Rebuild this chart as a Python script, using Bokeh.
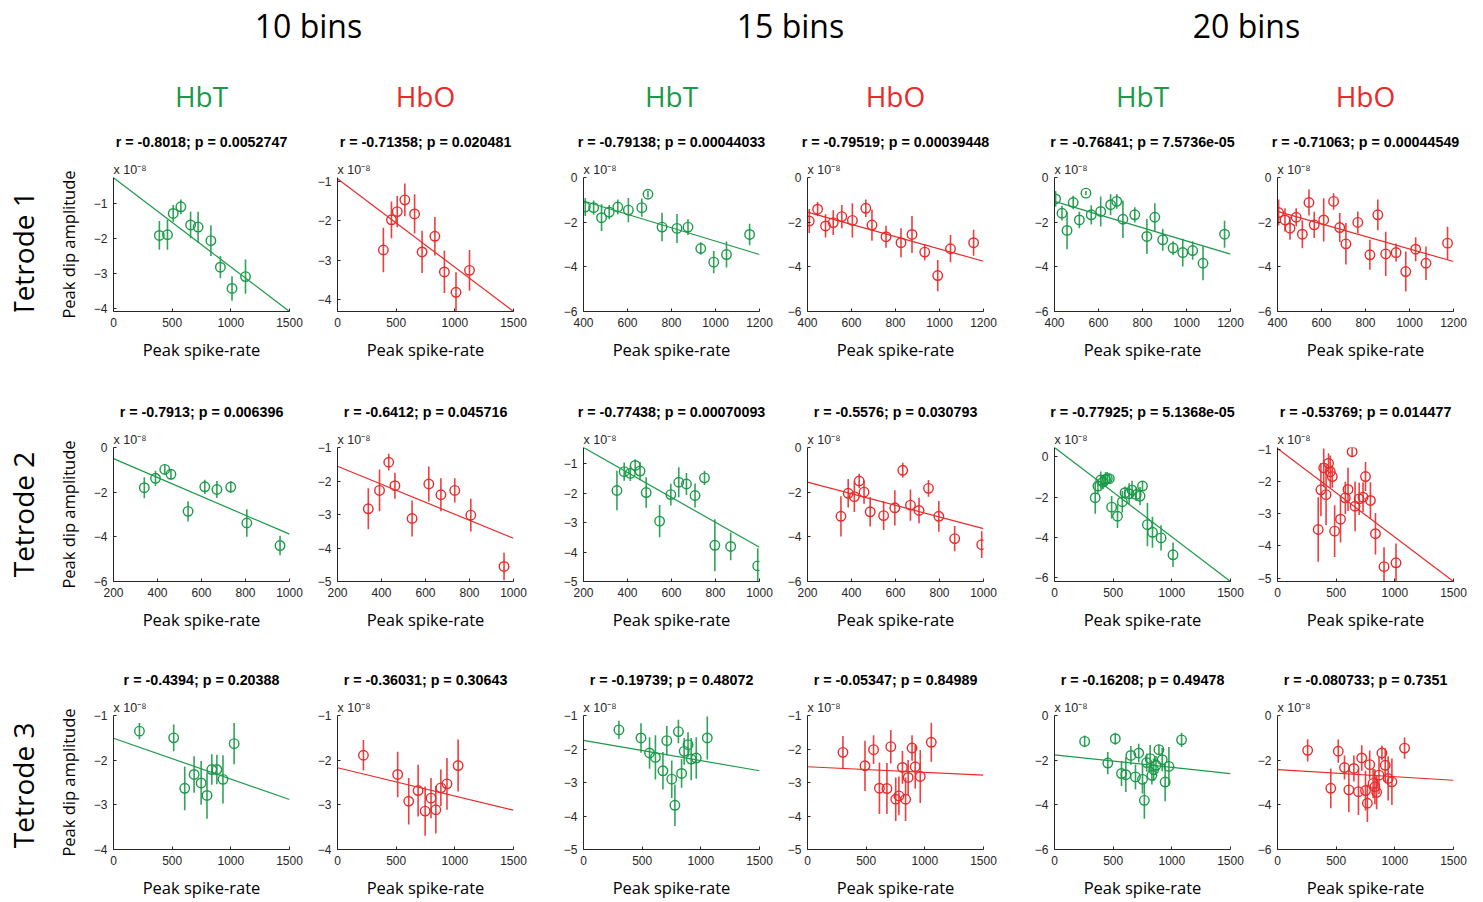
import numpy as np
from bokeh.plotting import figure
from bokeh.layouts import row, column
from bokeh.models import Range1d, FixedTicker, Title, ColumnDataSource
from bokeh.core.properties import value
from bokeh.embed import file_html
from bokeh.resources import INLINE

# ---------------- text ----------------
BIN_TITLES = ["10 bins", "15 bins", "20 bins"]
SIGNALS = ["HbT", "HbO", "HbT", "HbO", "HbT", "HbO"]
TETRODES = ["Tetrode 1", "Tetrode 2", "Tetrode 3"]
X_LABEL = "Peak spike-rate"
Y_LABEL = "Peak dip amplitude"
EXP_LABEL = "x 10\u207b\u2078"

STATS = [
    ["r = -0.8018; p = 0.0052747", "r = -0.71358; p = 0.020481",
     "r = -0.79138; p = 0.00044033", "r = -0.79519; p = 0.00039448",
     "r = -0.76841; p = 7.5736e-05", "r = -0.71063; p = 0.00044549"],
    ["r = -0.7913; p = 0.006396", "r = -0.6412; p = 0.045716",
     "r = -0.77438; p = 0.00070093", "r = -0.5576; p = 0.030793",
     "r = -0.77925; p = 5.1368e-05", "r = -0.53769; p = 0.014477"],
    ["r = -0.4394; p = 0.20388", "r = -0.36031; p = 0.30643",
     "r = -0.19739; p = 0.48072", "r = -0.05347; p = 0.84989",
     "r = -0.16208; p = 0.49478", "r = -0.080733; p = 0.7351"],
]

# ---------------- data (amplitudes in units of 1e-8) ----------------
T1_B10_X = [391, 460, 509, 574, 657, 721, 830, 911, 1010, 1125]
T1_B10_HBT_Y = [-1.92, -1.90, -1.29, -1.10, -1.62, -1.68, -2.07, -2.83, -3.44, -3.10]
T1_B10_HBT_E = [0.41, 0.43, 0.24, 0.21, 0.38, 0.44, 0.44, 0.32, 0.35, 0.49]
T1_B10_HBO_Y = [-2.74, -1.97, -1.76, -1.46, -1.82, -2.79, -2.39, -3.30, -3.82, -3.26]
T1_B10_HBO_E = [0.57, 0.47, 0.40, 0.42, 0.50, 0.54, 0.49, 0.54, 0.51, 0.52]

T1_B15_X = [408, 446, 482, 517, 556, 604, 665, 693, 757, 825, 875, 933, 992, 1050, 1155]
T1_B15_HBT_Y = [-1.32, -1.35, -1.80, -1.55, -1.32, -1.46, -1.35, -0.75, -2.22, -2.28, -2.22, -3.18, -3.79, -3.45, -2.55]
T1_B15_HBT_E = [0.40, 0.32, 0.60, 0.32, 0.34, 0.54, 0.41, 0.15, 0.64, 0.65, 0.35, 0.28, 0.50, 0.58, 0.48]
T1_B15_HBO_Y = [-1.95, -1.42, -2.17, -2.02, -1.75, -1.92, -1.38, -2.13, -2.65, -2.92, -2.55, -3.34, -4.39, -3.19, -2.92]
T1_B15_HBO_E = [0.54, 0.32, 0.52, 0.55, 0.52, 0.77, 0.39, 0.70, 0.49, 0.65, 0.83, 0.36, 0.70, 0.61, 0.58]

T1_B20_X = [405, 434, 457, 485, 513, 543, 567, 610, 655, 683, 711, 765, 820, 856, 892, 939, 983, 1028, 1075, 1173]
T1_B20_HBT_Y = [-0.96, -1.60, -2.37, -1.12, -1.90, -0.70, -1.67, -1.52, -1.22, -1.07, -1.87, -1.67, -2.64, -1.78, -2.79, -3.16, -3.36, -3.27, -3.84, -2.54]
T1_B20_HBT_E = [0.35, 0.33, 0.84, 0.30, 0.37, 0.10, 0.43, 0.67, 0.47, 0.33, 0.84, 0.34, 0.78, 0.63, 0.49, 0.31, 0.62, 0.41, 0.76, 0.60]
T1_B20_HBO_Y = [-1.57, -1.90, -2.27, -1.78, -2.54, -1.12, -2.12, -1.90, -1.07, -2.24, -2.97, -2.01, -3.46, -1.67, -3.42, -3.36, -4.21, -3.21, -3.84, -2.94]
T1_B20_HBO_E = [0.58, 0.52, 0.52, 0.40, 0.63, 0.58, 0.59, 0.97, 0.37, 0.65, 0.93, 0.49, 0.67, 0.69, 0.99, 0.40, 0.90, 0.54, 0.75, 0.73]

T2_B10_X = [340, 391, 433, 461, 539, 615, 670, 733, 806, 957]
T2_B10_HBT_Y = [-1.80, -1.38, -0.98, -1.20, -2.86, -1.76, -1.88, -1.77, -3.38, -4.39]
T2_B10_HBT_E = [0.47, 0.34, 0.23, 0.23, 0.45, 0.32, 0.38, 0.26, 0.62, 0.44]
T2_B10_HBO_Y = [-2.83, -2.28, -1.44, -2.14, -3.12, -2.09, -2.41, -2.28, -3.02, -4.55]
T2_B10_HBO_E = [0.61, 0.62, 0.25, 0.39, 0.54, 0.52, 0.49, 0.36, 0.49, 0.41]

T2_B15_X = [352, 385, 413, 435, 457, 485, 546, 597, 633, 668, 707, 750, 797, 869, 992]
T2_B15_HBT_Y = [-1.91, -1.27, -1.33, -1.06, -1.25, -1.98, -2.95, -2.05, -1.63, -1.69, -2.08, -1.48, -3.77, -3.81, -4.47]
T2_B15_HBT_E = [0.67, 0.31, 0.26, 0.21, 0.31, 0.52, 0.55, 0.37, 0.51, 0.37, 0.41, 0.24, 0.88, 0.47, 0.60]
T2_B15_HBO_Y = [-3.08, -2.05, -2.20, -1.50, -2.00, -2.88, -3.05, -2.70, -1.02, -2.58, -2.82, -1.83, -3.08, -4.08, -4.35]
T2_B15_HBO_E = [0.90, 0.64, 0.69, 0.33, 0.52, 0.66, 0.64, 0.79, 0.34, 0.70, 0.57, 0.38, 0.69, 0.56, 0.60]

T2_B20_X = [347, 370, 394, 414, 435, 450, 467, 487, 537, 578, 601, 636, 661, 696, 729, 750, 792, 835, 908, 1010]
T2_B20_HBT_Y = [-2.03, -1.45, -1.15, -1.25, -1.12, -1.08, -1.08, -2.50, -2.95, -2.23, -1.78, -1.83, -1.65, -1.87, -1.95, -1.45, -3.37, -3.75, -4.03, -4.87]
T2_B20_HBT_E = [0.80, 0.37, 0.43, 0.36, 0.37, 0.33, 0.20, 0.56, 0.59, 0.54, 0.31, 0.52, 0.46, 0.32, 0.45, 0.25, 1.08, 0.77, 0.63, 0.61]
T2_B20_HBO_Y = [-3.49, -2.26, -1.58, -2.41, -1.44, -1.70, -1.85, -3.54, -3.17, -2.51, -2.25, -1.08, -2.77, -2.54, -2.49, -1.85, -2.59, -3.62, -4.64, -4.52]
T2_B20_HBO_E = [1.00, 0.82, 0.60, 0.95, 0.31, 0.50, 0.35, 0.80, 0.72, 0.50, 0.67, 0.15, 0.77, 0.50, 0.46, 0.45, 0.56, 0.64, 0.60, 0.60]

T3_B10_X = [221, 513, 607, 687, 747, 797, 838, 881, 933, 1028]
T3_B10_HBT_Y = [-1.35, -1.50, -2.63, -2.32, -2.51, -2.79, -2.21, -2.21, -2.43, -1.63]
T3_B10_HBT_E = [0.18, 0.30, 0.49, 0.41, 0.49, 0.52, 0.34, 0.33, 0.54, 0.46]
T3_B10_HBO_Y = [-1.89, -2.32, -2.92, -2.68, -3.14, -2.85, -3.11, -2.62, -2.53, -2.12]
T3_B10_HBO_E = [0.34, 0.51, 0.52, 0.58, 0.55, 0.45, 0.53, 0.41, 0.58, 0.58]

T3_B15_X = [302, 490, 563, 613, 677, 710, 752, 779, 809, 836, 858, 891, 918, 961, 1055]
T3_B15_HBT_Y = [-1.43, -1.67, -2.12, -2.25, -2.65, -1.75, -2.90, -3.68, -1.48, -2.73, -2.07, -1.87, -2.30, -2.27, -1.67]
T3_B15_HBT_E = [0.27, 0.44, 0.47, 0.66, 0.56, 0.44, 0.56, 0.62, 0.35, 0.43, 0.40, 0.37, 0.63, 0.62, 0.64]
T3_B15_HBO_Y = [-2.10, -2.50, -2.02, -3.17, -3.18, -1.93, -3.50, -3.40, -2.55, -3.50, -2.85, -1.97, -2.53, -2.82, -1.80]
T3_B15_HBO_E = [0.49, 0.75, 0.43, 0.77, 0.76, 0.50, 0.65, 0.58, 0.49, 0.65, 0.52, 0.38, 0.65, 0.79, 0.58]

T3_B20_X = [257, 454, 518, 571, 608, 651, 690, 718, 750, 766, 786, 815, 830, 845, 865, 890, 918, 943, 975, 1083]
T3_B20_HBT_Y = [-1.16, -2.13, -1.04, -2.60, -2.65, -1.79, -2.75, -1.68, -2.86, -3.80, -2.11, -1.93, -2.68, -2.43, -2.23, -1.53, -1.98, -2.98, -2.28, -1.09]
T3_B20_HBT_E = [0.26, 0.50, 0.27, 0.56, 0.78, 0.42, 0.56, 0.42, 0.63, 0.82, 0.41, 0.61, 0.41, 0.50, 0.42, 0.22, 0.52, 0.86, 0.87, 0.32]
T3_B20_HBO_Y = [-1.56, -3.26, -1.60, -2.33, -3.33, -2.37, -3.41, -1.90, -3.36, -3.93, -2.20, -3.04, -3.19, -3.44, -2.67, -1.68, -2.23, -2.82, -2.97, -1.46]
T3_B20_HBO_E = [0.50, 0.89, 0.52, 0.54, 1.00, 0.58, 1.04, 0.57, 0.89, 0.84, 0.63, 0.67, 0.78, 0.76, 0.84, 0.32, 0.76, 0.99, 1.04, 0.48]

# linear fits: y at the left and right end of each panel's x range
FIT_Y = [
    [(-0.27, -4.10), (-0.92, -4.31), (-1.05, -3.45), (-1.55, -3.75), (-1.07, -3.43), (-1.52, -3.76)],
    [(-0.50, -3.88), (-1.56, -3.71), (-0.45, -3.84), (-1.55, -3.63), (0.47, -6.20), (-0.98, -5.10)],
    [(-1.51, -2.88), (-2.17, -3.12), (-1.74, -2.65), (-2.53, -2.78), (-1.76, -2.60), (-2.42, -2.90)],
]

XLIM = [
    [(0, 1500), (0, 1500), (400, 1200), (400, 1200), (400, 1200), (400, 1200)],
    [(200, 1000), (200, 1000), (200, 1000), (200, 1000), (0, 1500), (0, 1500)],
    [(0, 1500)] * 6,
]
YLIM = [
    [(-4.1, -0.26), (-4.31, -0.89), (-6, 0), (-6, 0), (-6, 0), (-6, 0)],
    [(-6, 0), (-5, -1), (-5, -0.45), (-6, 0), (-6.2, 0.47), (-5.1, -0.95)],
    [(-4, -1), (-4, -1), (-5, -1), (-5, -1), (-6, 0), (-6, 0)],
]
XT_1500 = [0, 500, 1000, 1500]
XT_1200 = [400, 600, 800, 1000, 1200]
XT_1000 = [200, 400, 600, 800, 1000]
XTICKS = [
    [XT_1500, XT_1500, XT_1200, XT_1200, XT_1200, XT_1200],
    [XT_1000, XT_1000, XT_1000, XT_1000, XT_1500, XT_1500],
    [XT_1500] * 6,
]
YT_6 = [-6, -4, -2, 0]
YT_5 = [-5, -4, -3, -2, -1]
YT_4 = [-4, -3, -2, -1]
YTICKS = [
    [YT_4, YT_4, YT_6, YT_6, YT_6, YT_6],
    [YT_6, YT_5, YT_5, YT_6, YT_6, YT_5],
    [YT_4, YT_4, YT_5, YT_5, YT_6, YT_6],
]

PANELS = [
    [(T1_B10_X, T1_B10_HBT_Y, T1_B10_HBT_E), (T1_B10_X, T1_B10_HBO_Y, T1_B10_HBO_E),
     (T1_B15_X, T1_B15_HBT_Y, T1_B15_HBT_E), (T1_B15_X, T1_B15_HBO_Y, T1_B15_HBO_E),
     (T1_B20_X, T1_B20_HBT_Y, T1_B20_HBT_E), (T1_B20_X, T1_B20_HBO_Y, T1_B20_HBO_E)],
    [(T2_B10_X, T2_B10_HBT_Y, T2_B10_HBT_E), (T2_B10_X, T2_B10_HBO_Y, T2_B10_HBO_E),
     (T2_B15_X, T2_B15_HBT_Y, T2_B15_HBT_E), (T2_B15_X, T2_B15_HBO_Y, T2_B15_HBO_E),
     (T2_B20_X, T2_B20_HBT_Y, T2_B20_HBT_E), (T2_B20_X, T2_B20_HBO_Y, T2_B20_HBO_E)],
    [(T3_B10_X, T3_B10_HBT_Y, T3_B10_HBT_E), (T3_B10_X, T3_B10_HBO_Y, T3_B10_HBO_E),
     (T3_B15_X, T3_B15_HBT_Y, T3_B15_HBT_E), (T3_B15_X, T3_B15_HBO_Y, T3_B15_HBO_E),
     (T3_B20_X, T3_B20_HBT_Y, T3_B20_HBT_E), (T3_B20_X, T3_B20_HBO_Y, T3_B20_HBO_E)],
]

# ---------------- style / layout ----------------
GREEN = "#1a9a48"
RED = "#ea2a2a"
COLORS = [GREEN, RED] * 3
AX_COLOR = "#262626"
TICK_FONT = "Liberation Sans"
LABEL_FONT = "Open Sans"

FRAME_W = 176
FRAME_H = 134
LEFT_B = [63, 24, 35, 24, 36, 24]
RIGHT_B = [24, 35, 24, 35, 23, 30]
HEADER_H = 60
ROW_H = [317, 268, 257]
TOP_B = [117, 70, 70]
ROWLABEL_W = 50


def make_panel(ti, ci):
    xs, ys, es = PANELS[ti][ci]
    color = COLORS[ci]
    h = ROW_H[ti]
    w = LEFT_B[ci] + FRAME_W + RIGHT_B[ci]
    xlim = XLIM[ti][ci]
    ylim = YLIM[ti][ci]
    p = figure(width=w, height=h, x_range=Range1d(*xlim), y_range=Range1d(*ylim),
               output_backend="svg", toolbar_location=None,
               min_border_left=LEFT_B[ci], min_border_right=RIGHT_B[ci],
               min_border_top=TOP_B[ti], min_border_bottom=h - TOP_B[ti] - FRAME_H)
    p.outline_line_color = None
    p.xgrid.visible = False
    p.ygrid.visible = False
    p.background_fill_color = "white"
    p.border_fill_color = "white"

    # stacked above the frame, from the inside out
    p.add_layout(Title(text=EXP_LABEL, align="left", standoff=2,
                       text_font=TICK_FONT, text_font_size="12.5px",
                       text_font_style="normal", text_color=AX_COLOR), "above")
    p.add_layout(Title(text=STATS[ti][ci], align="center", standoff=20,
                       text_font=TICK_FONT, text_font_size="14.3px",
                       text_font_style="bold", text_color="black"), "above")
    if ti == 0:
        p.add_layout(Title(text=SIGNALS[ci], align="center", standoff=14,
                           text_font=LABEL_FONT, text_font_size="28px",
                           text_font_style="normal", text_color=color), "above")

    for ax in (p.xaxis[0], p.yaxis[0]):
        ax.axis_line_color = AX_COLOR
        ax.axis_line_width = 1
        ax.major_tick_line_color = AX_COLOR
        ax.major_tick_in = 3
        ax.major_tick_out = 0
        ax.minor_tick_line_color = None
        ax.major_label_text_font = TICK_FONT
        ax.major_label_text_font_size = "12px"
        ax.major_label_text_color = AX_COLOR
        ax.major_label_standoff = 6
        ax.axis_label_text_font = LABEL_FONT
        ax.axis_label_text_font_size = "16.5px"
        ax.axis_label_text_font_style = "normal"
        ax.axis_label_text_color = "black"

    p.xaxis.ticker = FixedTicker(ticks=XTICKS[ti][ci])
    p.yaxis.ticker = FixedTicker(ticks=YTICKS[ti][ci])
    p.xaxis.axis_label = X_LABEL
    p.xaxis.axis_label_standoff = 8
    if ci == 0:
        p.yaxis.axis_label = Y_LABEL
        p.yaxis.axis_label_standoff = 11

    # fit line
    p.line(x=list(xlim), y=list(FIT_Y[ti][ci]), line_color=color, line_width=1.2)

    # error bars and markers
    src = ColumnDataSource(dict(
        x=xs, y=ys,
        lo=[y - e for y, e in zip(ys, es)],
        hi=[y + e for y, e in zip(ys, es)],
    ))
    p.segment(x0="x", y0="lo", x1="x", y1="hi", source=src, line_color=color,
              line_width=1.6, line_alpha=0.9)
    p.scatter(x="x", y="y", source=src, marker="circle", size=9.5, fill_color=None,
              line_color=color, line_width=1.4)
    return p


def blank_fig(w, h):
    f = figure(width=w, height=h, x_range=Range1d(0, w), y_range=Range1d(0, h),
               output_backend="svg", toolbar_location=None,
               x_axis_type=None, y_axis_type=None,
               min_border=0, min_border_left=0, min_border_right=0,
               min_border_top=0, min_border_bottom=0)
    f.outline_line_color = None
    f.xgrid.visible = False
    f.ygrid.visible = False
    return f


# header with the bin-count titles
header = blank_fig(1483, HEADER_H)
BIN_X = [308, 790, 1246]
header.text(x=BIN_X, y=[HEADER_H - 25] * 3, text=BIN_TITLES,
            text_font=value(LABEL_FONT), text_font_size="32px",
            text_align="center", text_baseline="middle", text_color="black")

rows = [header]
for ti in range(3):
    h = ROW_H[ti]
    lab = blank_fig(ROWLABEL_W, h)
    lab.text(x=[22], y=[h - TOP_B[ti] - FRAME_H / 2 + 3], text=[TETRODES[ti]], angle=np.pi / 2,
             text_font=value(LABEL_FONT), text_font_size="28px",
             text_align="center", text_baseline="middle", text_color="black")
    panels = [make_panel(ti, ci) for ci in range(6)]
    rows.append(row([lab] + panels, spacing=0))

layout = column(rows, spacing=0)

html = file_html(layout, INLINE, title="Peak dip amplitude vs peak spike-rate")
html = html.replace("<head>", "<head><style>html,body{margin:0;padding:0;}</style>", 1)
open("out.html", "w").write(html)
